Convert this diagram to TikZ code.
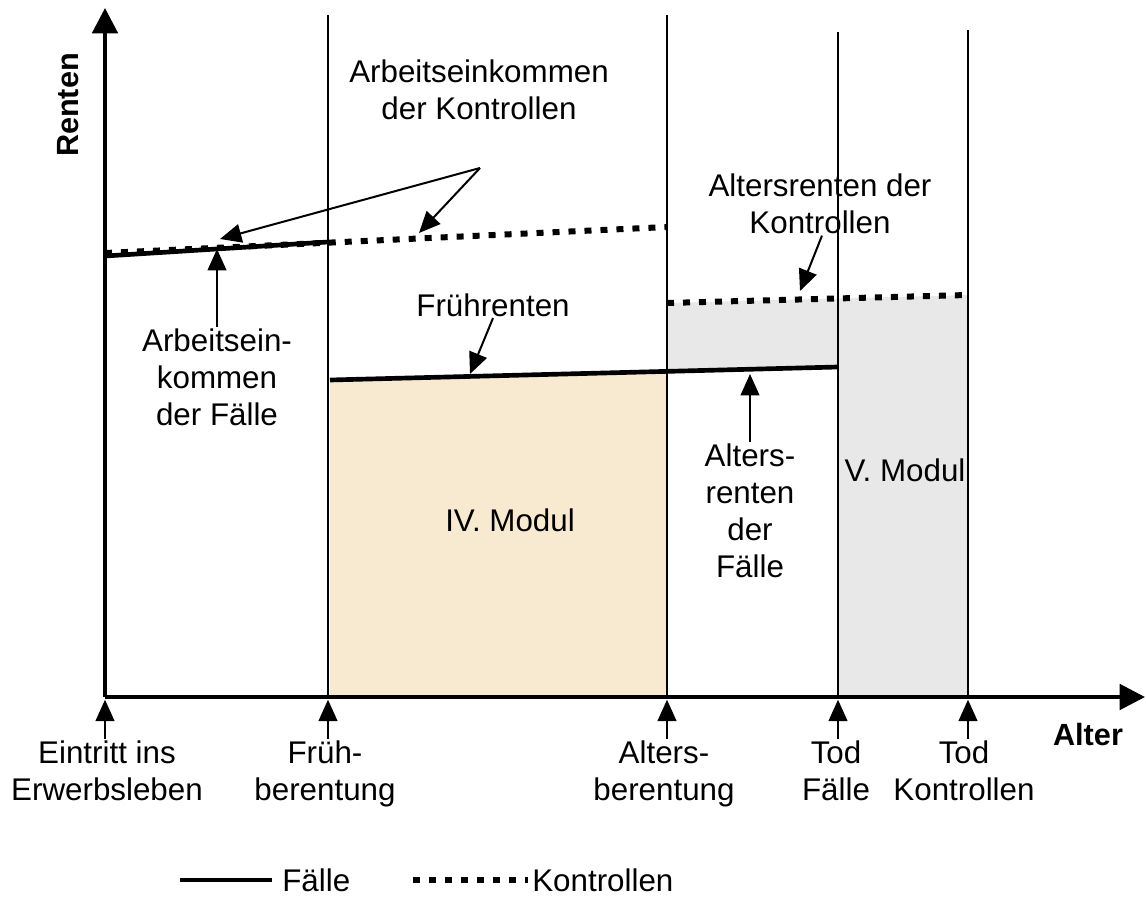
\documentclass[tikz,border=0pt]{standalone}
\usepackage{fontspec}
\setmainfont{Liberation Sans}
\usepackage{xcolor}
\usetikzlibrary{arrows.meta}
\definecolor{modulbeige}{HTML}{F8EAD0}
\definecolor{modulgrau}{HTML}{E8E8E8}

\begin{document}
\begin{tikzpicture}[x=0.75pt, y=-0.75pt,
    every node/.style={font=\fontsize{23.5}{27.75}\selectfont},
    lbl/.style={align=center, inner sep=1pt},
    axlbl/.style={inner sep=1pt, font=\fontsize{23}{27.75}\selectfont\bfseries},
    pfeil/.style={line width=1.5pt, -{Triangle[length=16pt,width=14pt]}},
    achse/.style={line width=3pt, -{Triangle[length=19pt,width=19pt]}},
    faelle/.style={line width=3.5pt},
    kontrollen/.style={line width=4.5pt, dash pattern=on 5.25pt off 6.75pt},
    trenner/.style={line width=1.3pt}]
  \useasboundingbox (0,0) rectangle (1146,902);

  % Flaechen der Module
  \fill[modulbeige] (330,380) -- (667,373) -- (667,697) -- (330,697) -- cycle;
  \fill[modulgrau] (667,303) -- (968,295) -- (968,697) -- (838,697) -- (838,367) -- (667,373) -- cycle;

  % senkrechte Linien
  \coordinate (o) at (105,697);
  \coordinate (fb) at (328,697);
  \coordinate (ab) at (667,697);
  \coordinate (tf) at (838,697);
  \coordinate (tk) at (968,697);
  \draw[trenner] (fb) -- (328,15);
  \draw[trenner] (ab) -- (667,15);
  \draw[trenner] (tf) -- (838,32);
  \draw[trenner] (tk) -- (968,30);

  % Einkommen und Renten
  \draw[kontrollen] (105,253) -- (667,227);
  \draw[faelle] (105,256) -- (328,242);
  \draw[faelle] (330,380) -- (838,367);
  \draw[kontrollen] (667,303) -- (968,295);

  % Achsen
  \draw[achse] (o) -- (105,8);
  \draw[achse] (o) -- (1145,697);
  \node[axlbl, rotate=90] (renten) at (68,105) {Renten};
  \node[axlbl] (alter) at (1088,735) {Alter};

  % Beschriftungen im Diagramm
  \node[lbl] (akk) at (479,90) {Arbeitseinkommen\\der Kontrollen};
  \coordinate (akk-fork) at (480,168);
  \coordinate (akk-l) at (220,239);
  \coordinate (akk-r) at (419,233);
  \draw[pfeil] (akk-fork) -- (akk-l);
  \draw[pfeil] (akk-fork) -- (akk-r);

  \node[lbl] (akf) at (217,377) {Arbeitsein-\\kommen\\der F\"alle};
  \coordinate (akf-t) at (217,249);
  \draw[pfeil] (akf.north) -- (akf-t);

  \node[lbl] (fr) at (493,305) {Fr\"uhrenten};
  \coordinate (fr-t) at (470,374);
  \draw[pfeil] (fr.south) -- (fr-t);

  \node[lbl] (ark) at (820,204) {Altersrenten der\\Kontrollen};
  \coordinate (ark-t) at (800,291);
  \draw[pfeil] (ark.south) ++(2,0) -- (ark-t);

  \node[lbl] (arf) at (750,511) {Alters-\\renten\\der\\F\"alle};
  \coordinate (arf-t) at (750,374);
  \draw[pfeil] (arf.north) -- (arf-t);

  \node (m4) at (510,520) {IV. Modul};
  \node (m5) at (905,470) {V. Modul};

  % Zeitpunkte auf der Altersachse
  \node[lbl, anchor=north] (eintritt) at (107,739) {Eintritt ins\\Erwerbsleben};
  \node[lbl, anchor=north] (frueh) at (325,739) {Fr\"uh-\\berentung};
  \node[lbl, anchor=north] (alters) at (664,739) {Alters-\\berentung};
  \node[lbl, anchor=north] (todf) at (836,739) {Tod\\F\"alle};
  \node[lbl, anchor=north] (todk) at (964,739) {Tod\\Kontrollen};
  \draw[pfeil] (eintritt.north -| o) -- ([yshift=-2pt]o);
  \draw[pfeil] (frueh.north -| fb) -- ([yshift=-2pt]fb);
  \draw[pfeil] (alters.north -| ab) -- ([yshift=-2pt]ab);
  \draw[pfeil] (todf.north -| tf) -- ([yshift=-2pt]tf);
  \draw[pfeil] (todk.north -| tk) -- ([yshift=-2pt]tk);

  % Legende
  \draw[faelle] (180,880) -- (272,880) node[anchor=west, inner sep=0pt, xshift=6pt] (lf) {F\"alle};
  \draw[kontrollen] (413,880) -- (528,880) node[anchor=west, inner sep=0pt, xshift=1pt] (lk) {Kontrollen};
\end{tikzpicture}
\end{document}
